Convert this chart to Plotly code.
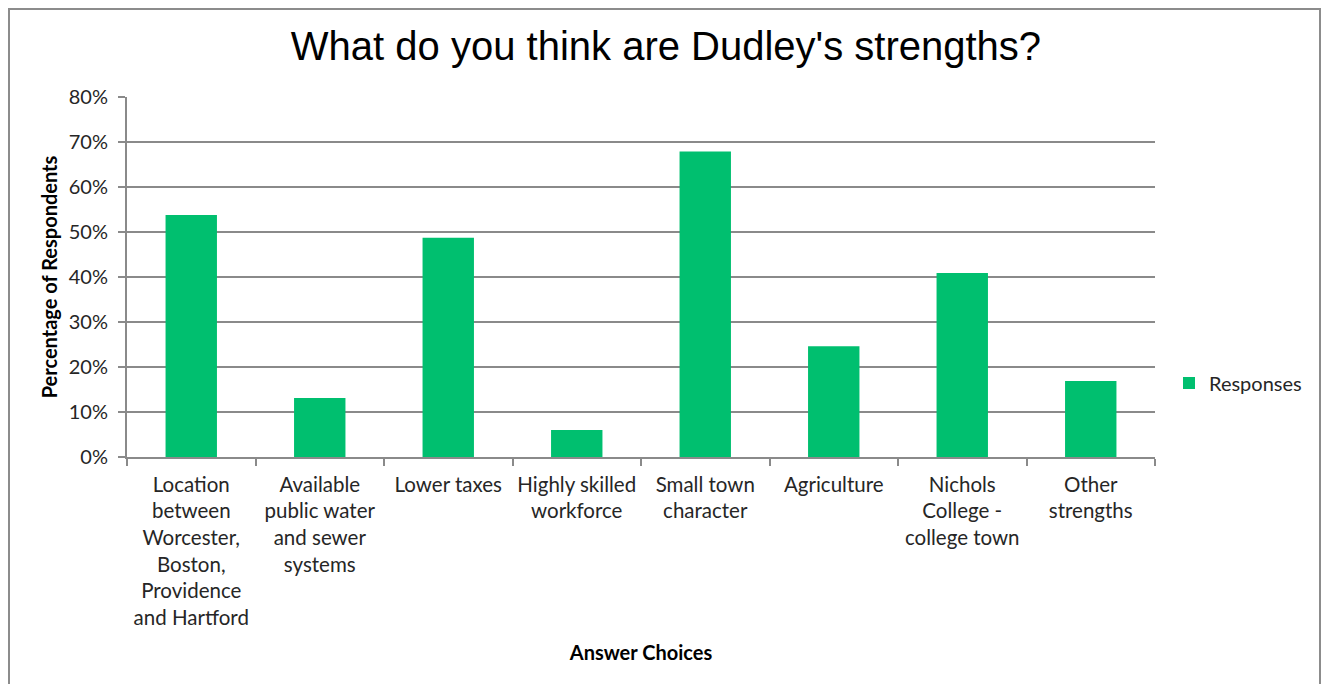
import plotly.graph_objects as go

categories = [
    "Location between Worcester, Boston, Providence and Hartford",
    "Available public water and sewer systems",
    "Lower taxes",
    "Highly skilled workforce",
    "Small town character",
    "Agriculture",
    "Nichols College - college town",
    "Other strengths",
]
tick_labels = [
    "Location<br>between<br>Worcester,<br>Boston,<br>Providence<br>and Hartford",
    "Available<br>public water<br>and sewer<br>systems",
    "Lower taxes",
    "Highly skilled<br>workforce",
    "Small town<br>character",
    "Agriculture",
    "Nichols<br>College -<br>college town",
    "Other<br>strengths",
]
responses = [0.538, 0.131, 0.487, 0.060, 0.679, 0.246, 0.409, 0.169]
y_ticks = [0, 0.1, 0.2, 0.3, 0.4, 0.5, 0.6, 0.7, 0.8]

# page body has an 8px margin; work in screen pixels and shift
OFF = 8
W, H = 1329 - 2 * OFF, 692 - 2 * OFF
PL, PR, PT, PB = 127, 1155, 97, 457  # plot area in screen pixels
L, R, T, B = PL - OFF, (W + OFF) - PR, PT - OFF, (H + OFF) - PB
pw, ph = W - L - R, H - T - B

def px(x):
    return (x - PL) / pw

def py(y):
    return (PB - y) / ph

GRID = "#8a8a8a"
TXT = "#262626"
FONT = "Lato"

fig = go.Figure()
fig.add_trace(go.Bar(
    x=categories, y=responses, name="Responses",
    marker=dict(color="#00BF6F", line=dict(width=0)),
    width=0.4, showlegend=True,
))

fig.update_layout(
    width=W, height=H,
    margin=dict(l=L, r=R, t=T, b=B, pad=0),
    paper_bgcolor="white", plot_bgcolor="white",
    title=dict(text="What do you think are Dudley's strengths?",
               xref="paper", x=px(666), xanchor="center",
               y=1 - (46 - OFF) / H, yanchor="middle",
               font=dict(family="Liberation Sans", size=40, color="black")),
    font=dict(family=FONT, size=20, color=TXT),
    showlegend=True,
    legend=dict(x=px(1169), xanchor="left", y=py(383), yanchor="middle",
                font=dict(family=FONT, size=20, color=TXT),
                bgcolor="rgba(0,0,0,0)", itemwidth=30),
)
fig.update_xaxes(
    tickmode="array", tickvals=categories, ticktext=tick_labels, tickangle=0,
    tickson="boundaries", ticks="outside", ticklen=7, tickwidth=2, tickcolor=GRID,
    showline=True, linecolor=GRID, linewidth=2, showgrid=False,
    tickfont=dict(family=FONT, size=20.5, color=TXT), ticklabelstandoff=8,
    title=dict(text="<b>Answer Choices</b>", font=dict(family=FONT, size=20, color="black"), standoff=18),
    automargin=False,
)
fig.update_yaxes(
    range=[0, 0.8], tickvals=y_ticks, tickformat=".0%",
    ticks="outside", ticklen=7, tickwidth=2, tickcolor=GRID,
    showline=True, linecolor=GRID, linewidth=2,
    showgrid=True, gridcolor=GRID, gridwidth=2, zeroline=False,
    tickfont=dict(family=FONT, size=20, color=TXT), ticklabelstandoff=6,
    title=dict(text="<b>Percentage of Respondents</b>", font=dict(family=FONT, size=20, color="black"), standoff=6),
    automargin=False,
)
fig.add_shape(type="rect", xref="paper", yref="paper",
              x0=px(9), x1=px(1320), y0=py(720), y1=py(9),
              line=dict(color="#8c8c8c", width=2), fillcolor="rgba(0,0,0,0)", layer="below")

fig.write_html("out.html")
